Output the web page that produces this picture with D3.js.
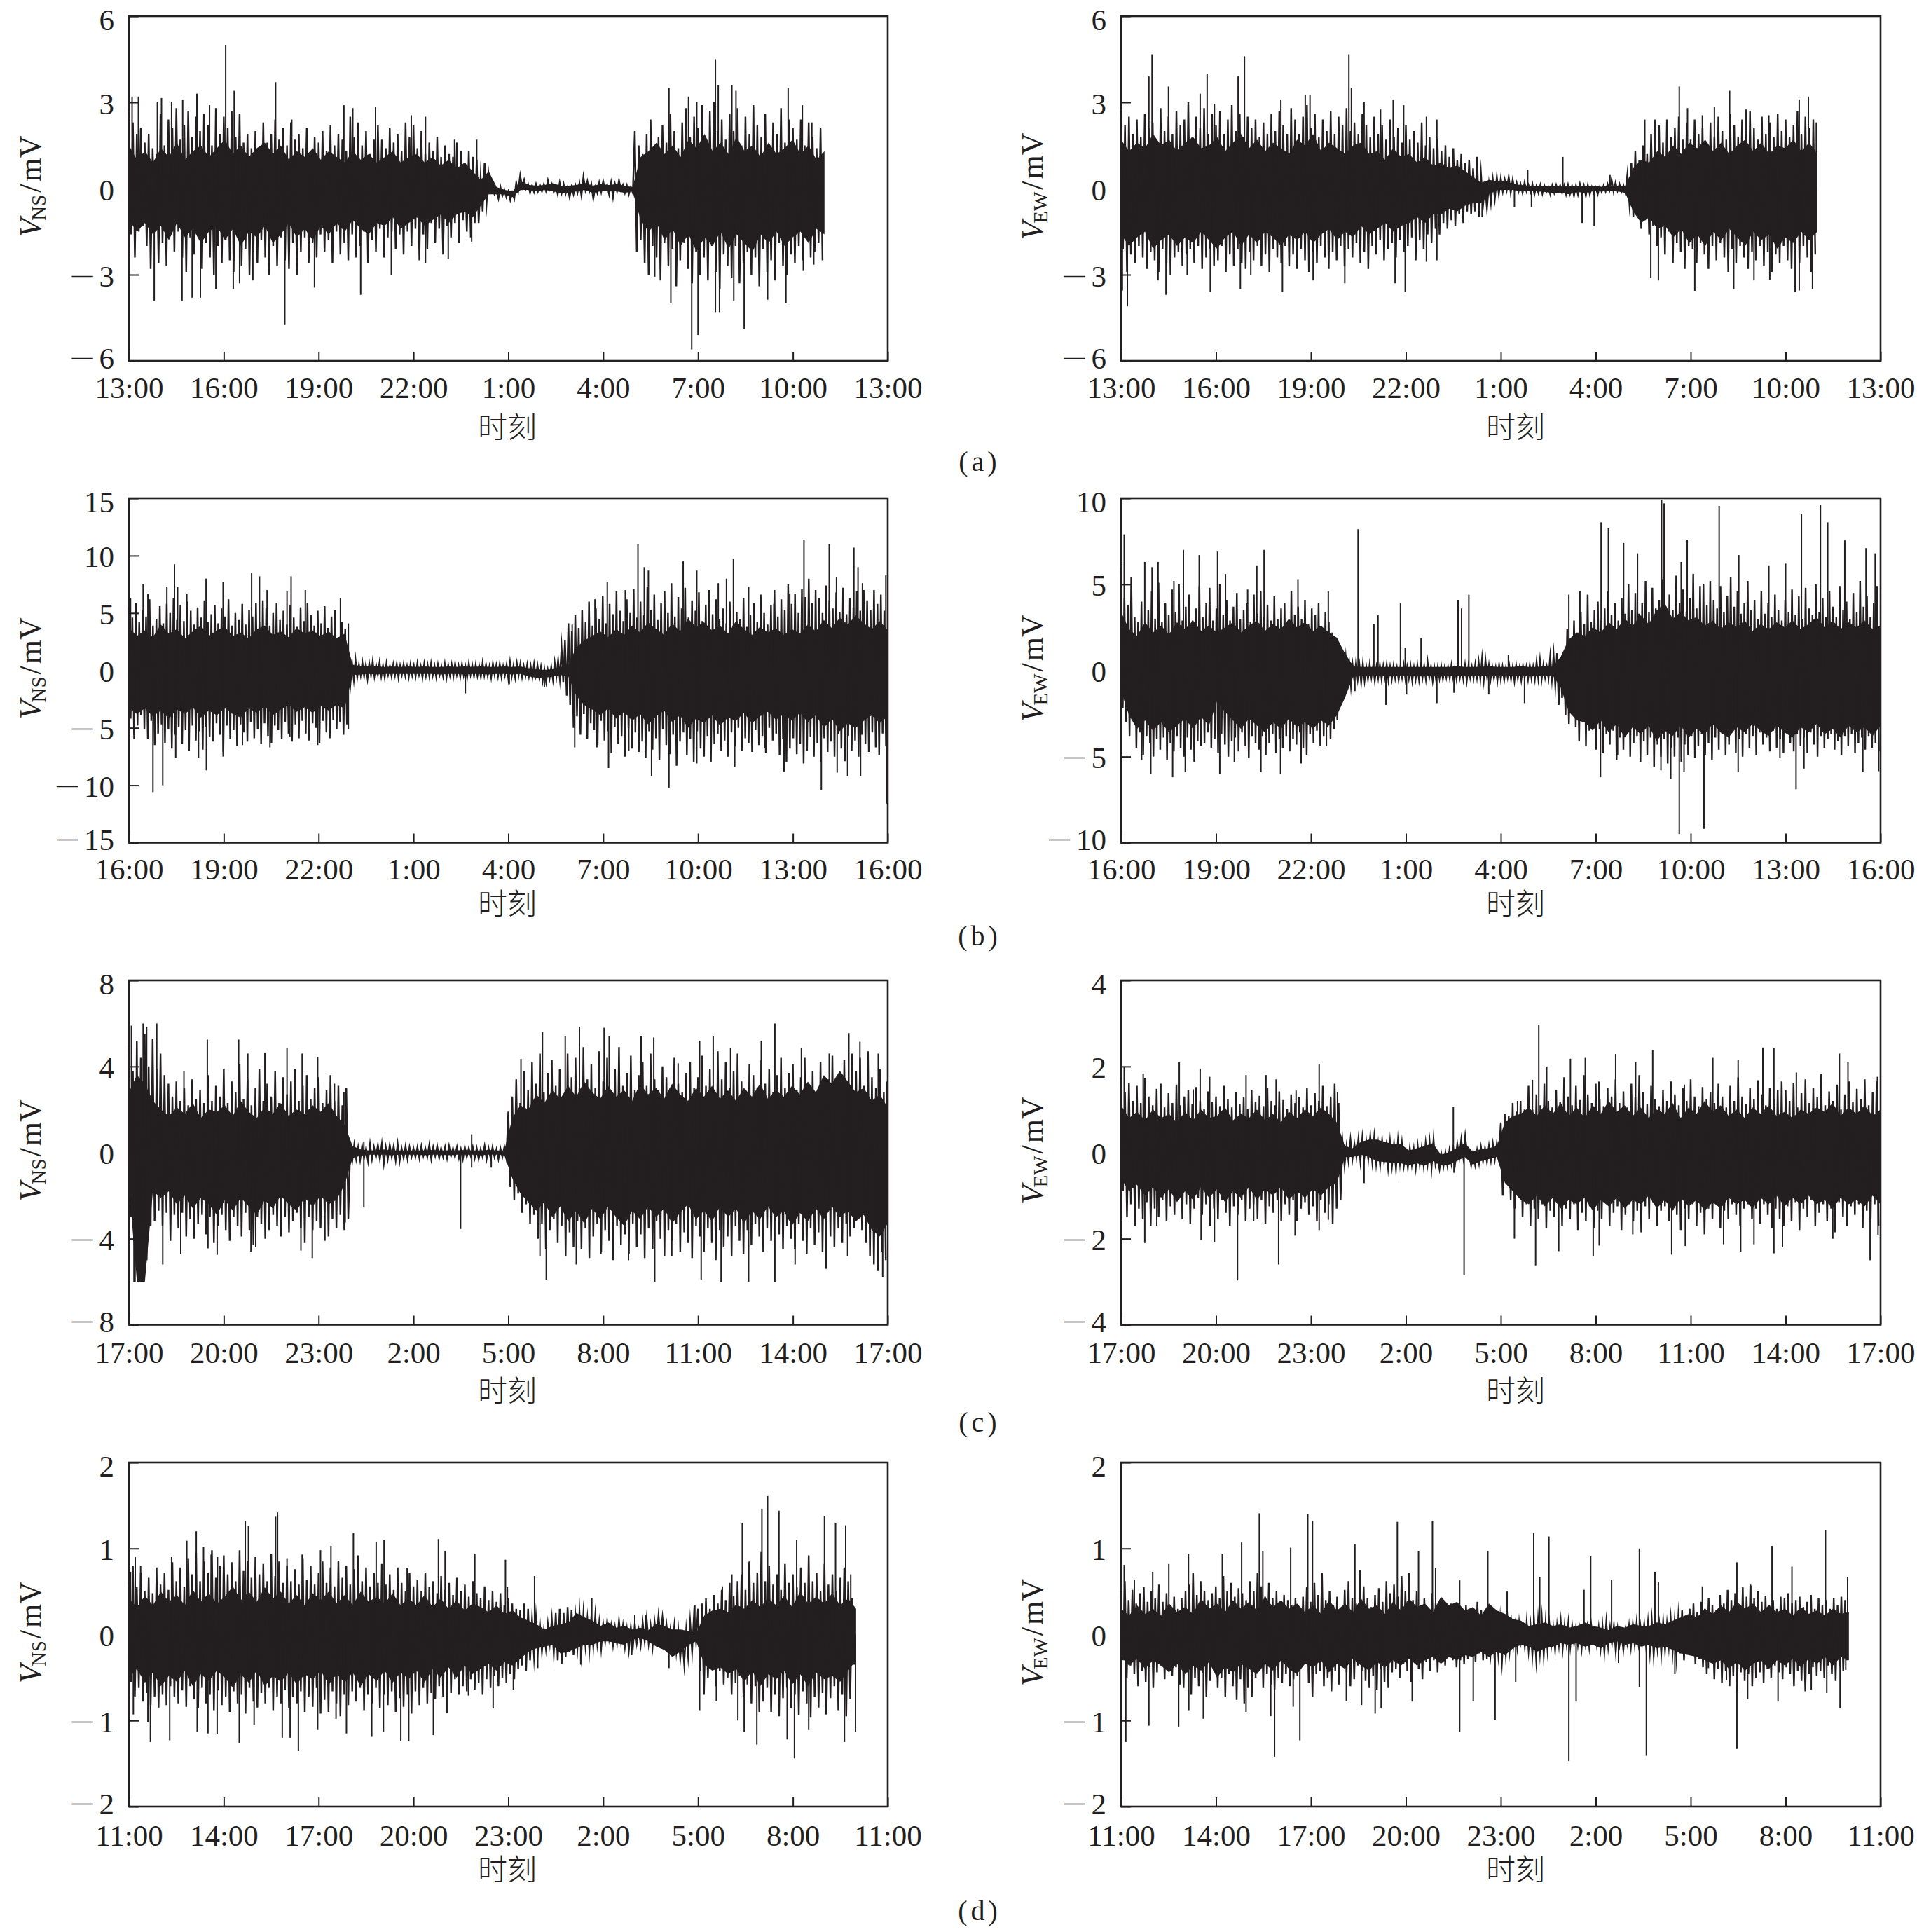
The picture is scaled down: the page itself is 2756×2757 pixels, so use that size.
<!DOCTYPE html>
<html><head><meta charset="utf-8"><style>html,body{margin:0;background:#fff}svg{display:block}</style>
<script src="https://cdn.jsdelivr.net/npm/d3@7"></script></head><body><svg id="c" width="2756" height="2757"></svg>
<script>
const rowNames=["(a)","(b)","(c)","(d)"];
const xLabelsA=["13:00","16:00","19:00","22:00","1:00","4:00","7:00","10:00","13:00"];
const xLabelsB=["16:00","19:00","22:00","1:00","4:00","7:00","10:00","13:00","16:00"];
const xLabelsC=["17:00","20:00","23:00","2:00","5:00","8:00","11:00","14:00","17:00"];
const xLabelsD=["11:00","14:00","17:00","20:00","23:00","2:00","5:00","8:00","11:00"];
const xTickHours=[0,3,6,9,12,15,18,21,24];

// a NS
const aNS_up=[2.8,2.3,1.9,2.1,1.6,1.9,1.4,1.2,2.6,1.5,2.4,2.1,2.8,1.7,2.2,2.7,1.8,2.5,2.0,2.6,2.2,1.5,2.8,1.9,
2.5,2.1,2.7,1.8,2.6,1.6,1.9,1.4,2.0,1.3,2.3,1.6,1.9,2.4,1.7,2.1,1.5,2.3,1.7,1.9,1.4,2.1,1.2,1.8,
1.6,2.0,1.3,2.2,1.5,1.9,1.7,1.3,2.5,1.8,2.3,1.5,2.0,1.2,1.7,2.2,1.7,1.4,2.1,1.6,1.9,1.3,2.3,1.8,
2.2,1.4,2.0,1.2,1.6,1.3,1.8,1.1,1.5,1.2,1.1,1.6,1.3,0.9,1.3,1.1,1.0,0.4,0.9,0.5,0.0,-0.1,0.05,-0.05,
-0.1,-0.15,0.2,0.45,0.3,0.15,0.1,0.15,0.12,0.15,0.28,0.15,0.1,0.2,0.15,0.05,0.05,0.1,0.18,0.4,0.25,0.15,0.05,0.2,
0.25,0.12,0.2,0.15,0.28,0.12,0.1,0.05,2.0,1.5,1.2,1.9,2.4,1.4,1.8,2.2,1.6,2.6,2.0,1.4,2.3,2.8,1.8,2.5,
2.1,2.9,1.6,2.7,3.0,2.0,2.4,1.7,2.6,2.0,2.8,1.5,2.5,1.9,2.9,2.2,1.8,2.6,1.5,2.3,1.9,2.8,1.6,2.4,
2.1,1.7,2.4,1.5,2.3,1.8,1.4,2.1];
const aNS_lo=[-1.6,-2.4,-1.5,-1.3,-2.0,-2.8,-1.4,-2.6,-1.9,-2.7,-1.6,-2.2,-1.5,-2.4,-2.9,-1.7,-2.3,-1.6,-2.8,-1.9,-2.4,-3.0,-2.0,-2.6,
-1.8,-2.5,-2.9,-1.7,-2.7,-2.1,-3.0,-2.2,-2.6,-1.8,-2.4,-3.0,-2.0,-2.7,-1.7,-2.5,-2.8,-1.9,-3.0,-2.2,-1.7,-2.6,-1.9,-2.4,
-1.6,-2.2,-1.8,-2.6,-1.5,-2.3,-1.9,-2.5,-1.6,-2.4,-2.0,-1.5,-2.6,-1.8,-2.2,-1.4,-2.4,-1.7,-1.5,-2.1,-1.6,-2.3,-1.5,-2.0,
-1.4,-2.5,-1.6,-2.1,-1.2,-1.9,-1.4,-2.3,-1.3,-1.7,-1.2,-1.9,-1.1,-1.5,-1.7,-1.2,-1.2,-0.8,-0.5,-0.1,-0.2,-0.35,-0.25,-0.3,
-0.4,-0.35,-0.1,0.05,0,-0.15,-0.12,-0.1,-0.1,-0.08,-0.02,-0.12,-0.2,-0.15,-0.18,-0.3,-0.2,-0.15,-0.25,-0.05,-0.1,-0.35,-0.15,-0.12,
-0.05,-0.2,-0.3,-0.1,-0.05,-0.15,-0.2,-0.15,-2.2,-1.8,-2.6,-3.0,-2.0,-2.4,-3.2,-1.9,-2.7,-2.1,-3.4,-2.5,-1.9,-2.8,-3.3,-2.2,
-3.0,-2.4,-3.2,-2.0,-2.9,-3.5,-2.3,-2.7,-3.1,-2.0,-3.3,-2.6,-2.2,-3.0,-2.4,-3.4,-2.1,-2.9,-2.5,-3.2,-1.9,-2.7,-3.0,-2.3,
-2.6,-2.0,-2.5,-1.8,-2.4,-2.2,-1.9,-2.5];
const aNS_peakT=[.1,.3,.9,1.03,1.35,1.7,2.15,2.55,3.06,3.33,3.5,4.64,5.15,6.8,7.08,7.8,8.93,9.38,10.3,11,17.08,17.7,17.96,18.55,18.64,19.07,19.2,19.75,20.85,21.3,21.6,.8,1.68,2,2.26,2.75,3.3,3.5,3.92,4.93,5.87,7.33,8.3,9.38,10.1,10.84,16.63,17.14,17.8,18,18.55,18.68,19.13,19.46,20.2,20.78,21.33,21.66];
const aNS_peakV=[3.2,3.2,3,3.15,3,3.1,3.3,2.9,5,3.4,2.6,3.7,2.4,2.9,2.8,2.85,2.55,2.5,1.7,1.7,3.5,3.2,3,4.5,3.6,3.6,3.4,2.85,3.5,2.9,2.3,-3.9,-3.9,-3.8,-3.8,-3.5,-3.5,-3.3,-3.2,-4.75,-3.45,-3.7,-3,-2.6,-2.45,-1.85,-3.07,-4,-5.6,-5.1,-4.3,-4.3,-3.9,-4.9,-3.87,-4,-2.87,-2.65];
const aNS_coreU=[1.5,1.0,1.3,0.9,1.4,1.1,1.6,1.0,1.3,1.5,1.1,1.4,1.7,1.2,1.5,1.1,1.4,1.6,1.2,1.5,1.0,1.3,1.1,1.4,1.0,1.3,1.1,0.9,1.3,1.0,1.2,0.9,1.1,1.3,0.9,1.1,1.2,0.9,1.1,0.8,1.0,0.7,0.9,0.6,0.3,0.6,0.05,-0.05,-0.1,0.25,0.12,0.1,0.12,0.18,0.1,0.1,0.12,0.2,0.1,0.15,0.12,0.15,0.1,0.05,1.1,1.3,1.6,1.2,1.5,1.1,1.7,1.4,1.9,1.3,1.6,1.2,1.8,1.3,1.5,1.1,1.6,1.2,1.4,1.7,1.2,1.5,1.0,1.3];
const aNS_coreL=[-1.1,-1.5,-1.2,-1.6,-1.3,-1.8,-1.2,-1.7,-1.4,-1.9,-1.5,-1.3,-1.8,-1.4,-2.0,-1.5,-1.7,-1.3,-1.9,-1.6,-1.2,-1.7,-1.4,-1.8,-1.3,-1.6,-1.2,-1.5,-1.1,-1.4,-1.6,-1.2,-1.3,-1.0,-1.4,-1.2,-1.0,-1.3,-1.1,-0.9,-1.2,-0.9,-0.8,-1.0,-0.6,-0.2,-0.2,-0.2,-0.3,-0.05,-0.05,-0.1,-0.05,-0.1,-0.15,-0.15,-0.1,-0.05,-0.15,-0.1,-0.1,-0.1,-0.15,-0.1,-1.1,-1.5,-1.2,-1.8,-1.4,-2.0,-1.6,-2.2,-1.7,-2.0,-1.5,-2.1,-1.6,-1.9,-2.2,-1.6,-1.9,-1.5,-2.0,-1.7,-1.5,-1.9,-1.4,-1.6];

// a EW
const aEW_up=[2.7,2.2,2.5,1.9,2.4,1.8,2.6,2.1,2.3,1.7,2.8,2.0,2.5,1.9,2.7,2.2,2.4,3.0,1.8,2.5,2.1,2.8,1.9,2.6,
2.2,2.7,1.9,2.4,2.9,2.0,2.6,1.8,2.5,2.1,2.4,1.8,2.3,1.9,2.6,2.0,2.7,2.2,1.9,2.8,2.4,1.9,2.5,2.9,
2.1,2.6,1.8,2.4,2.0,2.7,1.9,2.5,2.2,2.8,2.0,2.3,1.9,2.6,2.2,1.8,2.5,1.9,2.2,1.7,2.4,1.8,2.1,1.6,
2.2,1.7,2.0,1.6,2.3,1.5,1.8,1.4,1.7,1.3,1.5,1.1,1.4,1.0,1.2,0.9,1.0,0.7,1.1,0.5,0.1,0.15,0.3,0.4,
0.35,0.3,0.4,0.3,0.2,0.15,0.2,0.12,0.15,0.08,0.12,0.1,0.05,0.1,0.12,0.1,0.1,0.12,0.08,0.1,0.15,0.1,0.12,0.05,
0.03,0.05,0.1,0.15,0.3,0.2,0.15,0.1,0.5,0.9,1.3,1.0,1.5,1.2,1.9,1.4,2.2,1.6,2.4,1.8,2.1,2.5,1.7,2.3,
1.7,2.4,1.9,2.1,1.6,2.3,1.8,2.5,2.0,1.7,2.6,2.2,1.8,2.4,1.9,2.7,2.1,1.7,2.5,1.9,2.3,1.8,2.6,2.0,
2.4,1.8,2.2,2.7,1.9,2.5,2.1,2.4];
const aEW_lo=[-2.1,-2.9,-2.3,-2.6,-2.0,-2.4,-2.8,-2.2,-2.5,-2.9,-2.1,-2.6,-3.0,-2.4,-2.2,-2.7,-2.3,-2.1,-2.6,-2.0,-2.8,-2.4,-2.1,-2.7,
-2.5,-2.0,-2.9,-2.3,-2.7,-2.1,-2.6,-2.8,-2.2,-2.5,-2.0,-2.7,-2.3,-2.9,-2.1,-2.4,-2.6,-2.0,-2.7,-2.3,-2.8,-2.1,-2.5,-2.9,
-2.2,-2.6,-2.0,-2.4,-2.8,-2.2,-2.5,-2.0,-2.7,-2.1,-2.4,-1.9,-2.6,-2.2,-2.8,-2.0,-2.3,-1.8,-2.5,-2.1,-1.9,-2.4,-1.8,-2.2,
-2.0,-1.7,-2.5,-1.8,-2.1,-1.6,-1.9,-1.4,-1.6,-1.2,-1.4,-1.1,-1.3,-0.9,-1.2,-0.8,-0.9,-0.8,-1.0,-0.6,-0.7,-0.5,-0.35,-0.2,
-0.1,-0.05,-0.15,-0.05,-0.1,-0.15,-0.1,-0.12,-0.2,-0.15,-0.18,-0.12,-0.2,-0.15,-0.1,-0.15,-0.2,-0.18,-0.25,-0.2,-0.15,-0.25,-0.2,-0.15,
-0.2,-0.12,-0.1,-0.05,-0.1,-0.08,-0.1,-0.15,-0.5,-1.0,-0.9,-1.4,-1.1,-1.6,-1.3,-2.0,-1.7,-2.3,-1.5,-2.6,-1.9,-2.2,-2.8,-2.0,
-2.1,-2.6,-1.9,-2.3,-2.8,-2.0,-2.5,-1.9,-2.4,-2.9,-2.1,-2.6,-2.0,-2.4,-2.8,-2.2,-2.5,-2.0,-2.7,-2.2,-2.9,-2.3,-2.6,-2.0,
-2.5,-2.8,-2.2,-2.6,-2.0,-2.4,-2.9,-2.3];
const aEW_peakT=[.98,.88,1.5,2.5,2.72,2.95,3.7,3.9,5.05,5.82,5.97,7.2,7.28,7.68,8.2,8.6,8.93,9.65,9.98,12.85,13.96,15.45,16.55,16.87,17.64,17.9,18.37,19.23,18.75,19.75,20.47,21.43,21.72,21.97,.04,.2,1.17,1.42,2.09,2.82,3.77,4.1,5.1,6.07,7.07,8.66,8.98,9.65,9.98,11.41,12.43,12.97,14.57,14.95,16.74,16.98,18.13,19.36,20,20.5,21.3,21.43,21.85];
const aEW_peakV=[4.67,3.9,3.55,3.3,4,2.95,3.9,4.6,3.1,3.25,3.25,4.67,3.5,3,2.75,3.1,2.9,2.5,2.4,.65,1.1,.47,2.4,2.4,3.55,2.8,2.55,3.4,2.85,2.75,2.55,3.1,3.2,2.3,-3.55,-4.1,-3.2,-3.7,-3,-3.6,-3.5,-3,-3.6,-3.2,-3.3,-3.3,-3.6,-2.55,-2.5,-1,-.65,-.65,-1.2,-1.3,-3.1,-3.2,-3.56,-3.5,-3.2,-3.17,-3.6,-3.55,-3.5];
const aEW_coreU=[1.7,1.3,1.6,1.4,1.9,1.5,1.7,1.3,1.6,1.8,1.4,1.5,1.8,1.3,1.6,1.9,1.4,1.7,1.3,1.6,1.4,1.2,1.7,1.5,1.9,1.3,1.6,1.4,1.2,1.5,1.6,1.2,1.3,1.0,1.4,1.1,1.2,0.9,1.1,0.8,0.9,0.7,0.8,0.6,0.4,0.2,0.3,0.25,0.28,0.15,0.12,0.1,0.1,0.08,0.1,0.08,0.1,0.08,0.1,0.1,0.06,0.1,0.1,0.1,0.7,1.0,0.9,1.3,1.1,1.5,1.2,1.6,1.4,1.7,1.3,1.6,1.2,1.5,1.7,1.3,1.6,1.2,1.5,1.4,1.7,1.3,1.6,1.2];
const aEW_coreL=[-1.6,-2.0,-1.7,-1.5,-2.1,-1.8,-1.6,-2.0,-1.7,-1.9,-1.5,-1.8,-2.1,-1.7,-1.5,-2.0,-1.6,-1.9,-1.5,-1.7,-2.0,-1.6,-1.8,-1.5,-1.9,-1.6,-1.4,-1.8,-1.5,-1.7,-1.3,-1.6,-1.4,-1.2,-1.5,-1.3,-1.2,-1.0,-1.2,-0.9,-0.9,-0.7,-0.8,-0.6,-0.5,-0.5,-0.2,-0.05,-0.05,-0.05,-0.1,-0.1,-0.1,-0.12,-0.15,-0.15,-0.2,-0.12,-0.15,-0.1,-0.1,-0.08,-0.1,-0.15,-0.8,-1.2,-1.0,-1.4,-1.3,-1.7,-1.4,-1.9,-1.6,-2.0,-1.5,-1.8,-1.4,-1.7,-2.0,-1.5,-1.8,-1.6,-2.1,-1.7,-1.9,-1.5,-1.8,-1.5];

// b NS
const bNS_up=[5.5,4.6,5.9,4.2,5.3,4.7,6.2,3.9,4.5,5.6,4.1,5.8,5.0,6.3,4.4,5.7,4.3,6.0,5.2,4.0,5.5,4.6,6.1,4.2,
4.9,5.7,4.1,5.4,4.7,6.2,3.9,5.0,4.4,5.8,4.0,5.3,4.7,5.9,4.2,6.1,5.4,3.9,5.0,5.9,4.4,5.2,4.0,5.7,
4.6,3.8,5.5,4.3,5.9,4.8,3.9,5.2,4.1,5.6,3.7,4.7,5.3,2.9,4.2,3.6,0.8,0.6,0.9,0.5,0.7,0.5,0.6,0.8,
0.45,0.7,0.4,0.6,0.35,0.5,0.55,0.4,0.55,0.35,0.5,0.4,0.6,0.35,0.55,0.45,0.6,0.4,0.5,0.35,0.55,0.45,0.5,0.6,
0.4,0.55,0.35,0.6,0.45,0.5,0.4,0.65,0.5,0.35,0.6,0.45,0.55,0.35,0.5,0.7,0.4,0.6,0.55,0.35,0.5,0.4,0.55,0.45,0.3,0.1,0.05,0.3,0.7,
0.9,2.0,2.6,4.1,3.4,4.8,3.7,5.3,4.2,6.0,3.9,5.4,4.5,6.5,4.1,5.8,4.9,6.9,5.2,4.3,6.2,5.0,7.1,4.6,
6.0,4.8,7.3,5.3,6.6,4.4,5.9,6.9,5.0,7.6,4.7,6.4,5.4,7.2,4.6,6.1,5.2,6.8,4.3,5.7,7.0,4.9,6.2,4.5,
5.4,4.1,6.0,3.9,5.1,4.5,6.3,3.8,4.8,5.9,4.2,6.6,5.0,4.0,5.7,7.0,4.7,6.2,5.3,7.5,5.8,6.7,5.0,7.1,
6.4,8.0,5.9,7.0,6.3,5.0,7.4,6.1,5.4,6.8,5.1,7.2,4.9,6.3,5.5,6.9,5.2,7.0,6.1,5.3,7.0,5.8,6.6,5.2];
const bNS_lo=[-4.2,-5.6,-4.8,-3.9,-5.1,-6.0,-4.4,-6.5,-5.5,-4.7,-6.3,-5.1,-6.8,-5.6,-4.9,-6.4,-5.2,-7.0,-4.8,-6.1,-5.3,-6.9,-4.9,-5.8,
-6.2,-4.6,-5.6,-7.1,-4.8,-6.0,-5.2,-6.6,-4.7,-5.4,-6.2,-4.5,-5.9,-5.1,-6.4,-4.6,-5.7,-6.3,-4.8,-5.2,-6.0,-4.5,-5.5,-6.2,
-4.7,-5.9,-4.4,-5.5,-6.1,-4.6,-5.0,-6.3,-4.4,-5.4,-5.9,-4.3,-5.1,-4.5,-5.6,-4.7,-1.2,-0.8,-0.6,-0.4,-0.5,-0.7,-0.4,-0.5,
-0.35,-0.5,-0.6,-0.35,-0.5,-0.4,-0.6,-0.35,-0.45,-0.55,-0.4,-0.5,-0.35,-0.6,-0.45,-0.5,-0.4,-0.55,-0.35,-0.5,-0.6,-0.4,-0.5,-0.35,
-0.55,-0.4,-0.6,-0.35,-0.5,-0.45,-0.55,-0.4,-0.45,-0.6,-0.35,-0.5,-0.55,-0.4,-0.7,-0.5,-0.6,-0.4,-0.55,-0.45,-0.5,-0.6,-0.45,-0.55,-0.9,-1.0,-0.7,-0.8,-0.5,
-0.7,-1.0,-2.2,-3.0,-5.0,-4.0,-5.6,-3.8,-6.0,-4.6,-5.2,-6.5,-4.4,-6.1,-5.3,-7.2,-4.9,-6.4,-5.7,-7.5,-5.0,-6.8,-5.4,-7.1,
-6.2,-7.6,-5.3,-6.9,-5.9,-7.8,-5.1,-6.5,-7.3,-5.6,-8.3,-6.2,-5.4,-7.4,-6.0,-8.0,-5.3,-6.8,-7.5,-5.7,-8.0,-6.4,-5.5,-7.0,
-6.1,-7.5,-5.4,-6.6,-5.0,-7.0,-5.9,-6.3,-7.1,-5.2,-6.5,-5.7,-7.2,-5.0,-6.1,-5.5,-7.4,-6.0,-8.0,-6.8,-5.9,-7.3,-6.4,-8.1,
-7.0,-5.8,-7.5,-6.3,-8.0,-5.9,-7.1,-6.2,-7.5,-5.5,-6.8,-7.9,-5.7,-7.0,-6.1,-7.5,-5.6,-6.4,-7.1,-5.4,-6.7,-7.4,-5.5,-6.6];
const bNS_peakT=[.05,.45,.6,1.2,1.44,1.54,1.83,2.44,2.98,3.88,4.13,4.37,5.13,5,5.58,6.69,6.94,14.02,14.74,15.13,15.7,16.1,16.3,16.43,17.53,17.96,18.64,19.12,18.9,19.6,20.4,20.9,21.35,22.15,22.38,22.93,23.06,23.2,23.94,.76,1.07,.16,1.48,2.2,2.45,2.98,3.59,4.46,5.09,5.97,6.94,10.64,12.03,13.14,14.1,14.8,15.17,15.81,16.53,17.08,17.96,19.16,20.1,20.72,21.9,22.4,22.73,23.14,23.96];
const bNS_peakV=[6.3,7.5,6.7,7.3,9.25,7.3,6.7,8,7.7,8.5,8.2,7,8.2,6.9,7,6.3,4.1,4,6.2,7.7,7,11,9,8.7,9.5,8.7,7.6,9.7,8,7.3,5.8,6.7,11.4,11,8.1,10.7,9,7.6,8.3,-10.6,-10,-6,-7.6,-7.6,-8.7,-7.5,-6.5,-6.7,-5.8,-6.5,-5.1,-2,-1.2,-1.45,-6.7,-6.7,-8.5,-7,-9.2,-10.2,-8.1,-8.4,-6.8,-8.8,-10.4,-8.9,-9.2,-9.2,-11.6];
const bNS_coreU=[3.7,3.0,3.5,2.9,4.0,3.2,3.6,2.8,3.4,3.9,3.0,3.5,3.8,3.0,3.3,2.8,3.6,3.9,3.1,3.4,2.9,3.7,3.2,3.5,3.0,3.4,2.8,3.2,.5,.4,.35,.35,.3,.35,.3,.35,.3,.35,.3,.3,.35,.3,.35,.3,.35,.3,.3,.35,.3,.35,.2,.1,.05,.1,.3,.5,2.0,2.6,3.0,3.4,2.9,3.6,3.1,3.9,3.3,4.2,3.6,3.1,4.1,3.4,4.5,3.8,4.2,3.5,3.9,3.2,4.3,3.6,3.1,3.8,3.3,3.7,3.1,3.6,3.2,4.0,3.4,4.4,3.7,4.6,4.0,4.8,4.1,3.6,4.3,3.5];
const bNS_coreL=[-3.2,-3.8,-3.3,-4.0,-3.5,-4.2,-3.4,-3.8,-3.2,-4.1,-3.5,-3.9,-3.3,-3.8,-4.1,-3.3,-3.7,-3.1,-3.9,-3.4,-3.0,-3.6,-3.2,-3.7,-3.1,-3.5,-3.0,-3.3,-.4,-.35,-.3,-.35,-.3,-.3,-.3,-.3,-.3,-.3,-.3,-.35,-.3,-.3,-.35,-.3,-.3,-.35,-.3,-.3,-.35,-.3,-.5,-.65,-.6,-.55,-.4,-.5,-2.2,-3.0,-3.4,-3.9,-3.3,-4.2,-3.6,-4.4,-3.8,-4.7,-4.0,-3.5,-4.5,-3.9,-5.0,-4.2,-4.6,-3.9,-4.8,-4.1,-4.4,-3.7,-4.6,-4.0,-3.6,-4.3,-3.8,-4.4,-3.7,-4.5,-3.9,-5.0,-4.2,-5.3,-4.6,-5.0,-4.4,-3.9,-4.6,-4.0];

// b EW
const bEW_up=[6.0,4.2,3.8,5.4,3.1,2.8,4.0,2.6,3.5,4.6,3.0,5.1,2.8,3.9,3.2,4.7,3.4,5.0,2.9,3.7,4.4,2.9,3.6,4.9,
3.1,3.9,4.8,2.9,3.6,5.0,3.2,4.1,2.9,3.7,4.5,3.0,3.5,3.9,2.8,4.4,3.3,4.6,3.1,3.8,2.9,4.3,3.0,3.6,
3.9,2.8,4.6,3.2,3.7,3.0,4.1,2.7,3.6,3.2,3.9,2.5,3.4,2.8,2.2,1.9,0.8,0.5,0.7,0.4,0.3,0.5,0.3,0.4,
0.2,0.35,0.25,0.2,0.3,0.25,0.35,0.2,0.25,0.15,0.2,0.3,0.2,0.25,0.15,0.3,0.2,0.25,0.5,0.2,0.15,0.2,0.25,0.15,
0.2,0.3,0.15,0.25,0.2,0.3,0.25,0.2,0.35,0.5,0.7,0.6,0.3,0.2,0.15,0.3,0.2,0.15,0.25,0.2,0.3,0.15,0.25,0.2,0.3,0.2,0.5,0.6,0.3,0.2,0.8,
0.9,1.0,0.6,1.1,2.4,1.6,2.9,2.2,3.4,2.7,4.4,2.8,3.5,4.0,2.9,3.6,4.6,3.2,3.9,2.9,4.2,3.3,5.0,3.5,
4.5,3.3,3.9,5.2,3.4,4.8,3.6,4.1,5.3,3.7,4.4,3.5,5.5,3.9,4.7,3.4,4.2,5.6,3.6,4.9,5.0,3.8,5.2,4.1,
3.6,4.9,3.4,4.3,5.4,3.7,4.6,3.3,3.9,5.2,3.5,4.1,3.0,4.6,3.3,3.9,3.1,4.4,3.5,2.9,4.1,3.4,4.7,3.2,
4.3,3.0,4.8,3.6,3.2,5.0,3.4,4.2,3.1,4.6,3.7,3.1,4.9,3.5,4.0,3.0,4.5,3.4,5.2,3.7,4.3,3.1,3.9,4.9];
const bEW_lo=[-2.2,-3.0,-3.8,-2.9,-4.5,-3.6,-4.9,-3.8,-4.2,-5.0,-4.0,-4.6,-3.9,-5.2,-4.2,-4.7,-3.8,-4.5,-5.0,-3.9,-4.6,-5.3,-4.1,-4.4,
-4.2,-3.6,-4.5,-4.0,-4.8,-3.7,-4.3,-5.0,-4.1,-3.9,-4.7,-3.6,-4.4,-5.1,-3.8,-4.2,-4.6,-3.8,-4.9,-4.2,-3.7,-4.8,-4.0,-4.5,
-3.8,-4.7,-4.0,-4.3,-3.6,-4.5,-4.9,-3.7,-4.2,-3.5,-4.4,-3.8,-3.3,-4.0,-3.4,-2.9,-1.1,-0.8,-0.6,-0.9,-0.6,-0.5,-0.7,-0.6,
-0.5,-0.4,-0.6,-0.45,-0.5,-0.4,-0.55,-0.5,-0.45,-0.55,-0.4,-0.5,-0.45,-0.6,-0.5,-0.55,-0.45,-0.5,-0.4,-0.6,-0.55,-0.45,-0.5,-0.4,
-0.45,-0.4,-0.5,-0.4,-0.5,-0.6,-0.4,-0.45,-0.4,-0.5,-0.55,-0.4,-0.5,-0.45,-0.6,-0.5,-0.55,-0.4,-0.5,-0.6,-0.45,-0.55,-0.4,-0.5,-0.45,-0.5,-0.45,-0.5,-0.4,-0.45,-0.5,
-0.9,-2.0,-1.6,-2.6,-3.1,-2.4,-3.3,-4.1,-3.0,-4.4,-3.5,-3.2,-4.6,-3.4,-4.8,-3.7,-4.3,-3.5,-5.2,-3.9,-4.6,-3.6,-5.0,-4.2,
-3.8,-5.3,-4.1,-4.9,-3.9,-5.6,-4.3,-5.0,-4.0,-5.4,-4.5,-5.0,-3.9,-5.3,-4.3,-4.9,-3.8,-5.1,-4.4,-3.7,-4.9,-4.2,-5.2,-3.9,
-4.6,-3.7,-4.9,-4.3,-3.6,-4.8,-4.0,-5.0,-3.7,-4.5,-3.8,-4.9,-3.6,-4.3,-3.9,-4.7,-3.5,-4.5,-4.0,-4.8,-3.6,-4.2,-4.7,-3.7,
-4.4,-3.9,-4.8,-3.6,-4.3,-5.0,-3.8,-4.5,-4.0,-3.7,-4.6,-4.1,-4.9,-3.8,-4.4,-3.7,-4.8,-4.2,-3.9,-4.6,-3.8,-4.5,-4.2,-4.7];
const bEW_peakT=[.1,.02,.75,.98,1.17,1.67,1.97,2.47,3.05,3.3,4,4.29,4.52,5.59,6.55,7.49,7.99,8.12,8.83,8.98,9.48,10.65,10.76,10.99,12.24,14.15,14.5,15.17,15.4,15.88,16.32,17.08,17.16,17.89,17.7,18.9,19.52,20.47,21,21.5,22.1,22.33,22.87,23.54,23.83,.94,.65,1.63,2.03,3.12,3.58,4.42,5.04,5.69,6.49,7.39,8.37,9.02,9.98,10.52,11.62,12.75,15.15,15.69,17.06,17.37,17.64,17.79,18.42,19.5,20.82,21.33,21.58,23.44,23.94];
const bEW_peakV=[7.9,6.3,6.3,6,6.3,5.2,7,6.7,6.9,5.6,4.7,6.1,7,5.3,4.6,8.2,2.7,3.2,3.9,1.3,1.9,4.1,3.6,4.4,.9,4.4,4.6,8.6,8.25,7.4,6.8,9.9,9.7,7.6,6.3,9.55,6.7,6.1,6.2,9.1,9.6,8.6,7.55,7.1,6.8,-6,-5.2,-6.2,-5.9,-6,-5.3,-5.9,-6,-5.4,-4.4,-1.2,-2,-1.4,-1.9,-1.3,-1.4,-1.9,-6.2,-4.9,-5.8,-6.3,-9.5,-5.9,-9.2,-5.9,-5.1,-6.9,-5.7,-5.9,-5.85];
const bEW_coreU=[3.4,2.4,2.0,2.8,2.2,2.6,2.1,2.8,2.4,2.9,2.3,2.6,2.2,2.5,2.8,2.2,2.6,2.9,2.3,2.7,2.4,3.0,2.5,2.8,2.3,2.6,2.2,1.9,1.0,.3,.2,.2,.2,.2,.2,.2,.2,.2,.2,.2,.2,.2,.25,.2,.2,.2,.25,.2,.2,.2,.25,.2,.2,.25,.2,.8,1.8,2.2,2.0,2.5,2.2,2.8,2.4,3.0,2.6,3.2,2.7,3.5,3.9,3.0,3.4,2.9,3.1,2.6,2.9,2.4,2.8,2.5,2.9,2.3,2.7,2.4,2.8,2.5,2.9,2.4,2.7,3.1,2.5,2.9,2.4,2.8,2.5,2.9,2.4,2.6];
const bEW_coreL=[-1.2,-2.6,-3.4,-2.9,-3.5,-3.0,-3.6,-3.2,-2.8,-3.4,-2.7,-3.2,-1.8,-2.4,-2.9,-3.4,-2.8,-3.2,-3.6,-3.0,-3.4,-2.8,-3.3,-3.0,-3.4,-2.9,-3.2,-2.6,-1.6,-.4,-.3,-.35,-.3,-.3,-.35,-.3,-.3,-.35,-.3,-.3,-.35,-.3,-.3,-.3,-.35,-.3,-.3,-.35,-.3,-.3,-.35,-.3,-.3,-.35,-.3,-1.0,-2.4,-2.9,-3.0,-3.5,-2.9,-3.6,-3.1,-3.9,-3.3,-3.7,-3.2,-4.1,-3.5,-3.8,-3.2,-3.9,-3.4,-3.7,-3.1,-3.6,-3.9,-3.3,-3.6,-3.1,-3.5,-3.8,-3.2,-3.6,-3.9,-3.3,-3.6,-3.1,-3.7,-3.4,-3.9,-3.2,-3.6,-3.3,-3.8,-3.2];

// c NS
const cNS_up=[5.0,3.8,5.2,4.4,5.5,4.0,5.3,3.9,4.6,3.6,3.2,2.6,3.3,2.4,3.0,2.2,3.4,2.5,2.9,2.3,3.6,2.4,3.1,2.6,
3.9,2.3,3.3,2.8,4.1,2.5,3.4,2.2,3.0,3.9,2.4,3.2,2.6,3.8,2.3,3.5,2.7,3.3,3.9,2.4,3.1,3.6,2.5,3.0,
3.5,2.3,2.9,3.6,2.4,3.1,2.2,3.0,0.3,0.35,0.25,0.3,0.2,0.4,0.25,0.35,0.4,0.25,0.35,0.3,0.4,0.2,0.3,0.25,
0.2,0.25,0.3,0.2,0.35,0.25,0.3,0.2,0.25,0.3,0.2,0.25,0.15,0.25,0.2,0.25,0.2,0.15,0.3,0.2,0.25,0.15,0.2,0.25,
1.9,2.6,3.4,2.3,3.8,2.9,4.2,3.2,4.6,2.8,3.7,4.3,3.1,3.9,2.7,4.6,3.5,4.4,3.0,4.9,3.4,4.1,3.0,4.7,
3.3,4.4,2.8,3.9,4.9,3.1,3.7,4.5,2.9,3.6,4.2,3.1,4.6,3.4,2.9,4.0,3.5,3.0,4.4,3.2,2.8,3.7,4.2,3.0,
3.5,4.5,3.1,3.9,2.9,4.7,3.4,4.2,3.0,3.8,4.6,3.3,2.9,4.1,3.6,3.0,4.3,3.2,3.9,2.8,3.6,4.4,3.0,3.7,
4.1,2.9,3.5,4.4,3.1,3.8,2.8,4.2,3.0,3.4,4.5,3.2,3.7,4.3,3.3,4.6,3.8,4.4,3.1,4.7,3.5,3.0,3.9,2.8];
const cNS_lo=[-3.0,-6.0,-6.0,-5.9,-5.0,-3.4,-3.2,-2.7,-3.4,-2.8,-4.1,-2.9,-3.5,-2.8,-3.9,-3.1,-4.0,-3.3,-2.9,-3.8,-3.0,-4.2,-3.4,-2.9,
-3.6,-4.1,-3.0,-3.4,-3.9,-2.8,-3.6,-4.3,-3.0,-3.3,-4.0,-3.6,-2.9,-3.4,-3.9,-3.0,-3.7,-3.2,-2.8,-3.5,-4.2,-3.0,-3.6,-3.2,
-3.5,-2.8,-3.9,-3.1,-3.5,-2.9,-3.6,-3.1,-0.4,-0.3,-0.35,-0.25,-0.4,-0.3,-0.2,-0.3,-0.5,-0.3,-0.2,-0.35,-0.4,-0.25,-0.3,-0.2,
-0.2,-0.25,-0.15,-0.2,-0.3,-0.15,-0.25,-0.2,-0.25,-0.15,-0.2,-0.25,-0.3,-0.2,-0.15,-0.25,-0.3,-0.2,-0.3,-0.25,-0.2,-0.3,-0.2,-0.25,
-1.6,-2.2,-1.9,-2.8,-2.4,-3.3,-2.9,-4.0,-3.3,-4.5,-3.6,-3.1,-4.2,-3.4,-4.8,-3.7,-4.4,-3.2,-4.5,-3.5,-4.9,-3.9,-3.3,-4.6,
-3.6,-4.1,-5.0,-3.4,-4.3,-3.8,-4.7,-3.3,-4.4,-3.8,-4.9,-3.5,-4.5,-3.2,-4.0,-4.8,-3.6,-4.1,-3.3,-4.6,-3.7,-4.2,-4.9,-3.4,
-3.9,-4.6,-3.5,-4.2,-5.0,-3.6,-4.4,-3.9,-4.8,-3.4,-4.1,-4.7,-3.6,-4.3,-3.3,-3.9,-4.6,-3.5,-4.1,-3.2,-3.8,-4.5,-3.4,-4.0,
-4.5,-3.3,-4.1,-4.7,-3.5,-4.3,-3.7,-4.6,-3.2,-3.9,-4.4,-3.5,-4.2,-3.3,-3.9,-3.5,-3.0,-3.6,-4.2,-4.8,-5.2,-5.5,-4.6,-5.0];
const cNS_peakT=[.08,.45,.56,.88,1.74,2.48,3.47,3.76,4.3,5,5.48,5.97,6.5,6.8,7.43,10.84,12.4,13.08,13.8,14.25,15.03,15.19,16.2,16.6,17.37,18.05,18.48,19.03,20,20.43,21.27,22.15,22.77,23.12,23.7,23.96,.16,.3,1.07,1.64,2.5,2.79,3.86,4.01,5.44,5.8,6.2,6.84,7.43,10.49,10.84,11.46,13,13.2,14.15,14.93,15.8,16.63,17.17,18.1,18.73,19.6,20.43,21.07,22.05,22.73,23.7,23.84];
const cNS_peakV=[5.9,6,5.85,6,3.8,5.25,5.25,4.6,4.65,4.85,4.6,4.45,3.2,2.8,.5,.85,4.35,5.6,5.4,5.85,5.8,5.4,5.4,5.35,4.15,5.2,5.4,4.85,5.2,6,4.85,4.6,5.55,5.15,4.6,3.3,-6,-6,-5.2,-4.7,-4.45,-4.75,-4.6,-4.4,-4.55,-4.9,-4.1,-3.25,-2.55,-3.55,-.7,-.7,-4.8,-5.9,-5.2,-4.7,-5,-6,-4.8,-5.9,-6,-6,-6,-5.2,-5.4,-4.8,-5.3,-5.8];
const cNS_coreU=[2.8,3.6,3.2,2.4,2.0,1.7,2.1,1.8,2.3,1.6,2.0,1.9,2.2,1.7,2.4,1.9,1.6,2.1,1.8,2.3,1.7,2.0,1.8,2.2,1.9,2.3,1.7,1.3,0.3,.15,.1,.1,.15,.1,.1,.1,.1,.1,.12,.1,.1,.1,.12,.1,.1,.12,.1,.1,1.6,2.2,2.0,2.7,2.3,2.9,2.5,3.1,2.6,3.3,2.8,2.5,3.1,2.6,2.9,2.4,3.2,2.7,3.0,2.5,3.2,2.7,2.4,3.0,2.6,3.1,2.5,2.9,2.4,3.0,2.6,3.2,2.5,2.9,2.6,3.1,2.7,3.3,2.8,3.6,3.2,3.8,3.3,2.8,3.0,2.4,2.7,2.1];
const cNS_coreL=[-1.5,-6,-6,-1.8,-2.1,-1.8,-2.4,-2.0,-2.6,-2.1,-2.4,-2.9,-2.2,-2.7,-2.1,-2.5,-2.9,-2.2,-2.6,-2.0,-2.4,-2.7,-2.1,-2.5,-2.0,-2.4,-2.2,-1.5,-0.25,-.15,-.1,-.1,-.1,-.12,-.1,-.1,-.1,-.12,-.1,-.1,-.12,-.1,-.1,-.1,-.12,-.1,-.1,-.12,-1.2,-1.9,-2.3,-2.7,-2.3,-3.0,-2.5,-3.2,-2.7,-3.3,-2.6,-3.1,-2.5,-3.0,-3.4,-2.7,-3.1,-2.5,-3.0,-2.6,-3.3,-2.8,-2.4,-3.1,-2.7,-3.2,-2.5,-3.0,-2.6,-3.3,-2.7,-3.1,-2.5,-3.0,-2.7,-3.4,-2.8,-3.2,-2.6,-3.1,-2.5,-3.0,-2.7,-3.2,-2.9,-3.6,-3.9,-3.3];

// c EW
const cEW_up=[1.75,1.4,1.62,1.2,1.55,1.15,1.72,1.3,1.1,1.48,1.22,1.05,1.38,1.15,1.58,1.1,1.3,1.45,1.12,1.52,1.2,1.02,1.42,1.18,
1.3,1.08,1.55,1.25,1.05,1.4,1.12,1.28,1.02,1.45,1.18,1.32,1.08,1.5,1.2,1.1,1.42,1.22,1.02,1.35,1.15,1.28,1.05,1.5,
1.1,1.38,1.2,1.55,1.08,1.3,1.6,1.15,0.25,0.15,0.3,0.2,0.32,0.35,0.25,0.38,0.36,0.2,0.28,0.15,0.25,0.2,0.28,0.22,
0.03,0.1,0.08,0.15,0.12,0.22,0.25,0.3,-0.1,-0.05,0.0,0.05,0.1,0.2,0.3,0.38,-0.05,0.0,0.05,0.12,0.1,0.15,0.2,0.22,
0.7,0.9,0.85,1.15,0.95,1.2,1.0,1.55,1.0,1.35,1.1,1.6,1.2,1.05,1.45,1.18,1.75,1.3,1.1,1.55,1.22,1.8,1.35,1.15,
1.6,1.25,1.08,1.5,1.3,1.7,1.15,1.42,1.05,1.6,1.28,1.8,1.4,1.12,1.55,1.25,1.08,1.45,1.2,1.65,1.35,1.1,1.5,1.2,
1.7,1.3,1.08,1.52,1.25,1.4,1.15,1.6,1.3,1.05,1.55,1.2,1.75,1.3,1.12,1.5,1.25,1.68,1.35,1.1,1.5,1.25,1.45,1.65,
1.45,1.2,1.62,1.05,1.38,1.7,1.15,1.5,1.28,1.82,1.1,1.42,1.2,1.58,1.0,1.35,1.65,1.18,1.48,1.25,1.7,1.1,1.4,1.65];
const cEW_lo=[-0.9,-1.5,-1.2,-1.7,-1.3,-1.55,-1.15,-1.7,-1.3,-1.5,-1.1,-1.6,-1.25,-1.45,-1.1,-1.55,-1.2,-1.65,-1.3,-1.05,-1.45,-1.2,-1.7,-1.3,
-1.55,-1.1,-1.4,-1.7,-1.25,-1.45,-1.1,-1.6,-1.3,-1.2,-1.55,-1.1,-1.65,-1.25,-1.4,-1.1,-1.6,-1.2,-1.45,-1.1,-1.6,-1.3,-1.15,-1.45,
-1.25,-1.6,-1.1,-1.4,-1.2,-1.65,-1.3,-1.1,-0.3,-0.2,-0.15,-0.1,-0.2,-0.12,-0.15,-0.2,-0.25,-0.3,-0.2,-0.35,-0.3,-0.38,-0.25,-0.3,
-0.35,-0.28,-0.35,-0.28,-0.3,-0.25,-0.35,-0.28,-0.38,-0.32,-0.3,-0.25,-0.22,-0.12,-0.1,-0.05,-0.3,-0.28,-0.25,-0.2,-0.22,-0.18,-0.15,-0.12,
-1.0,-0.7,-1.1,-1.3,-0.9,-1.5,-1.2,-1.7,-1.3,-1.55,-1.2,-1.75,-1.35,-1.5,-1.15,-1.7,-1.3,-1.55,-1.2,-1.8,-1.4,-1.6,-1.25,-1.75,
-1.35,-1.55,-1.15,-1.7,-1.4,-1.25,-1.8,-1.45,-1.2,-1.6,-1.35,-1.85,-1.25,-1.55,-1.15,-1.7,-1.35,-1.25,-1.6,-1.2,-1.45,-1.8,-1.3,-1.55,
-1.2,-1.7,-1.4,-1.9,-1.3,-1.55,-1.2,-1.75,-1.35,-1.55,-1.2,-1.45,-1.7,-1.3,-1.2,-1.55,-1.3,-1.65,-1.2,-1.45,-1.75,-1.3,-1.55,-1.7,
-1.25,-1.6,-1.15,-1.8,-1.3,-1.5,-1.1,-1.7,-1.4,-1.2,-1.6,-1.3,-1.85,-1.15,-1.5,-1.7,-1.25,-1.45,-1.2,-1.75,-1.35,-1.55,-1.2,-1.7];
const cEW_peakT=[.1,.7,1.26,1.84,2.28,2.5,2.8,3.95,4.58,4.9,5.53,6.26,6.84,10.5,12.53,13,13.2,13.45,14.2,14.67,15.1,15.63,16.26,16.8,17.8,18.7,19.5,20.28,20.63,21.34,22.7,22.97,23.9,.75,1.13,2.53,2.95,3.68,4.19,4.98,5.5,6.26,6.55,7.68,10.52,10.84,12.43,13.1,13.83,14.92,15.11,16.17,17.4,17.83,19.04,19.58,20,20.63,20.9,22.49,23.67,23.92];
const cEW_peakV=[2,1.83,1.6,2.1,1.47,1.95,1.76,1.8,1.8,1.7,1.44,2.06,1.4,1.07,1.2,1.69,2.97,2,2.18,2.2,1.65,2.29,2.1,2.38,1.58,2.2,2.15,2.44,2.43,1.86,2.3,2.1,1.76,-2.1,-1.7,-2.03,-2.08,-2.97,-1.6,-2.6,-1.93,-1.8,-1.56,-.71,-.47,-2.85,-2,-2.62,-2.29,-2.4,-2.16,-1.9,-2.37,-2.17,-2.13,-2.3,-2.13,-2.34,-2.2,-2,-2.5,-1.91];
const cEW_coreU=[1.1,.8,.95,.75,1.0,.8,.9,.7,.95,.75,1.0,.8,.85,1.05,.75,.9,.8,1.0,.75,.9,.7,.95,.8,1.0,.85,1.05,.9,.7,.15,.1,.25,.3,.3,.25,.2,.2,.05,.1,.15,.22,-.05,0,.1,.22,.02,.08,.1,.15,.7,.85,.9,1.05,.85,1.1,.9,1.15,.85,1.05,.8,1.1,.9,1.2,.95,1.1,.85,1.05,.8,1.0,.9,1.15,.8,1.05,.9,1.2,.95,1.1,.85,1.0,.8,1.05,.9,1.1,.85,.95,.8,1.0,.9,1.05,.95,1.15,.85,1.05,.9,1.1,.85,1.0];
const cEW_coreL=[-.6,-.9,-.75,-1.0,-.8,-1.05,-.85,-1.15,-.9,-1.1,-.8,-1.05,-.85,-1.15,-.9,-1.05,-.8,-1.1,-.85,-1.0,-.8,-1.1,-.9,-1.05,-.85,-1.0,-.8,-.7,-.1,-.1,-.05,-.1,-.2,-.22,-.25,-.25,-.3,-.25,-.3,-.2,-.3,-.28,-.2,-.1,-.28,-.2,-.15,-.1,-.7,-.9,-1.1,-1.2,-1.0,-1.25,-1.05,-1.3,-1.1,-1.2,-1.05,-1.35,-1.1,-1.25,-1.05,-1.3,-1.1,-1.2,-1.0,-1.3,-1.1,-1.35,-1.05,-1.25,-1.1,-1.35,-1.15,-1.3,-1.05,-1.2,-1.1,-1.3,-1.05,-1.2,-1.0,-1.25,-1.05,-1.2,-1.0,-1.2,-1.1,-1.3,-1.05,-1.2,-1.1,-1.25,-1.0,-1.2];

// d NS
const dNS_up=[0.62,0.8,0.55,0.72,0.5,0.66,0.48,0.78,0.58,0.72,0.52,0.84,0.62,0.78,0.55,0.88,0.7,0.95,0.62,0.85,0.72,0.98,0.66,0.8,
0.92,0.7,0.84,0.62,0.98,0.74,0.86,0.66,0.9,0.7,0.82,0.62,0.94,0.68,0.85,0.6,0.8,0.62,0.76,0.58,0.88,0.64,0.8,0.58,
0.72,0.85,0.6,0.78,0.56,0.86,0.66,0.8,0.58,0.76,0.92,0.62,0.78,0.56,0.72,0.6,0.82,0.58,0.7,0.52,0.78,0.6,0.5,0.72,
0.56,0.64,0.5,0.72,0.55,0.62,0.48,0.68,0.52,0.6,0.46,0.66,0.5,0.58,0.44,0.62,0.48,0.42,0.56,0.4,0.5,0.38,0.48,0.34,
0.42,0.36,0.3,0.28,0.36,0.3,0.18,0.2,0.12,0.05,0.12,0.18,0.25,0.3,0.25,0.32,0.28,0.2,0.26,0.24,0.18,0.2,0.22,0.14,
0.12,0.15,0.1,0.08,0.16,0.1,0.06,0.08,0.12,0.05,0.14,0.18,0.1,0.15,0.22,0.2,0.12,0.06,0.1,0.05,-0.02,0.05,0.15,0.25,
0.3,0.36,0.42,0.3,0.46,0.36,0.52,0.4,0.6,0.45,0.62,0.7,0.52,0.85,0.6,0.72,0.96,0.62,0.8,0.58,0.7,0.52,0.82,0.6,
0.7,0.55,0.78,0.6,0.92,0.62,0.72,0.5,0.82,0.58,0.7,0.5,0.66,0.78,0.62,0.42];
const dNS_lo=[-0.55,-0.72,-0.62,-0.78,-0.68,-0.82,-0.72,-0.85,-0.7,-0.82,-0.6,-0.72,-0.8,-0.65,-0.84,-0.6,-0.75,-0.86,-0.62,-0.8,-0.7,-0.88,-0.65,-0.82,
-0.72,-0.9,-0.66,-0.8,-0.7,-0.92,-0.62,-0.78,-0.85,-0.68,-0.8,-0.62,-0.88,-0.72,-0.8,-0.64,-0.86,-0.72,-0.8,-0.66,-0.9,-0.72,-0.84,-0.62,
-0.92,-0.76,-0.9,-0.66,-0.8,-0.95,-0.7,-0.82,-0.66,-0.78,-0.62,-0.88,-0.7,-0.8,-0.62,-0.86,-0.7,-0.82,-0.66,-0.9,-0.74,-0.84,-0.7,-0.92,
-0.66,-0.82,-0.62,-0.8,-0.68,-0.75,-0.6,-0.72,-0.58,-0.68,-0.52,-0.7,-0.6,-0.66,-0.52,-0.64,-0.56,-0.7,-0.52,-0.62,-0.48,-0.6,-0.5,-0.56,
-0.46,-0.52,-0.4,-0.36,-0.42,-0.3,-0.25,-0.18,-0.2,-0.16,-0.1,-0.22,-0.3,-0.34,-0.26,-0.2,-0.24,-0.14,-0.2,-0.12,-0.18,-0.14,-0.1,-0.16,
-0.08,-0.05,-0.12,-0.1,-0.08,-0.14,-0.18,-0.16,-0.1,-0.12,-0.08,-0.1,-0.14,-0.05,-0.02,-0.04,-0.1,-0.16,-0.2,-0.28,-0.34,-0.25,-0.2,-0.08,
-0.42,-0.7,-0.5,-0.4,-0.6,-0.42,-0.58,-0.5,-0.7,-0.56,-0.48,-0.72,-0.58,-0.8,-0.6,-0.9,-0.78,-0.62,-0.9,-0.7,-0.95,-0.74,-0.62,-0.86,
-0.7,-0.94,-0.66,-0.8,-0.96,-0.72,-0.85,-0.68,-0.92,-0.74,-0.6,-0.88,-0.7,-0.95,-0.75,-0.35];
const dNS_peakT=[.05,.2,.37,1.35,1.83,2.13,2.36,2.6,2.8,3.68,3.78,4.7,4.64,5,5.48,6.06,6.39,7.1,7.82,8.07,8.8,9.79,10,10.94,11.91,11.97,12.83,14.64,16,16.34,17.9,18.77,19.07,19.4,19.6,20.02,20.2,20.56,21.12,22,22.35,22.67,22.83,.14,.68,.6,1.29,2.16,2.5,2.79,3.49,3.96,4.85,5.1,5.36,5.97,6.55,6.88,7.68,8.05,8.6,8.85,9.63,10.06,10.74,11.52,12.16,12.93,14.29,15.9,17.08,18.05,18.58,19.26,19.46,19.86,20.82,21.05,21.5,22.05,22.63,22.98];
const dNS_peakV=[.73,.9,.8,.9,1.09,1.2,1.02,.93,.9,1.32,1.26,1.42,1.37,.88,.93,.98,1.03,1.18,1.08,1.1,.77,1.11,.97,.94,.87,.55,.68,.42,.23,.23,.34,.56,.7,1.3,.84,1.46,1.61,1.44,1.1,1.38,1.3,1.27,.7,-.93,-1.25,-1.02,-1.23,-1.13,-1.15,-1.16,-1.26,-1.05,-1.2,-1.2,-1.35,-1.11,-.98,-1.15,-1.19,-1.13,-1.24,-1.24,-1.17,-.91,-.71,-.86,-.64,-.39,-.35,-.24,-.39,-.88,-.77,-1,-1.13,-1.28,-1.22,-1.44,-1.11,-.93,-1.25,-1.13];
const dNS_coreU=[.42,.32,.45,.34,.5,.38,.46,.34,.52,.38,.48,.36,.44,.56,.4,.5,.38,.55,.42,.5,.36,.46,.34,.48,.4,.5,.36,.46,.34,.5,.38,.44,.36,.48,.34,.42,.34,.46,.32,.42,.3,.4,.28,.36,.32,.26,.34,.24,.28,.2,.16,.12,.06,.1,.12,.14,.25,.2,.16,.1,.14,.08,.1,.06,.08,.05,.12,.1,.06,.06,.04,.02,.22,.28,.3,.26,.35,.3,.4,.32,.42,.34,.45,.32,.5,.36,.44,.36,.48,.34,.42,.3];
const dNS_coreL=[-.5,-.4,-.56,-.44,-.6,-.48,-.55,-.42,-.6,-.46,-.54,-.42,-.5,-.62,-.46,-.56,-.42,-.6,-.48,-.55,-.44,-.58,-.46,-.52,-.42,-.58,-.46,-.56,-.44,-.6,-.46,-.54,-.42,-.56,-.44,-.52,-.42,-.56,-.4,-.5,-.38,-.5,-.36,-.46,-.4,-.34,-.42,-.32,-.36,-.28,-.2,-.16,-.14,-.12,-.22,-.2,-.16,-.12,-.12,-.08,-.08,-.1,-.12,-.06,-.04,-.08,-.14,-.18,-.26,-.2,-.12,-.08,-.35,-.42,-.38,-.46,-.4,-.55,-.42,-.6,-.46,-.52,-.42,-.58,-.46,-.6,-.44,-.52,-.48,-.55,-.42,-.3];

// d EW
const dEW_up=[0.5,0.62,0.4,0.52,0.36,0.48,0.55,0.38,0.5,0.42,0.58,0.38,0.48,0.34,0.44,0.3,0.42,0.5,0.58,0.72,0.46,0.62,0.5,0.4,
0.48,0.56,0.42,0.68,0.5,0.6,0.44,0.54,0.48,0.4,0.62,0.5,0.72,0.56,0.44,0.6,0.42,0.5,0.36,0.46,0.4,0.34,0.42,0.3,
0.44,0.55,0.38,0.6,0.46,0.72,0.4,0.5,0.34,0.44,0.3,0.52,0.62,0.42,0.36,0.3,0.56,0.42,0.32,0.46,0.54,0.38,0.62,0.48,
0.58,0.44,0.68,0.5,0.72,0.4,0.5,0.34,0.42,0.3,0.48,0.36,0.28,0.4,0.32,0.36,0.26,0.2,0.28,0.34,0.24,0.3,0.38,0.28,
0.25,0.18,0.14,0.12,0.16,0.1,0.14,0.12,0.1,0.14,0.08,0.15,0.1,0.12,0.16,0.18,0.14,0.12,0.08,0.1,0.15,0.1,0.14,0.1,
0.08,0.06,0.1,0.08,0.12,0.06,0.08,0.1,0.14,0.08,0.1,0.06,0.02,0.04,0.1,0.12,0.14,0.1,0.12,0.14,0.16,0.12,0.1,0.15,
0.12,0.18,0.14,0.2,0.28,0.22,0.3,0.36,0.26,0.38,0.3,0.42,0.34,0.28,0.46,0.36,0.52,0.4,0.48,0.32,0.55,0.44,0.58,0.42,
0.5,0.38,0.45,0.34,0.4,0.3,0.44,0.42,0.48,0.36,0.4,0.44,0.32,0.38,0.46,0.3,0.42,0.34,0.4,0.3,0.42,0.34,0.44,0.4];
const dEW_lo=[-0.3,-0.5,-0.36,-0.46,-0.6,-0.42,-0.55,-0.38,-0.62,-0.44,-0.36,-0.52,-0.42,-0.48,-0.38,-0.58,-0.62,-0.44,-0.7,-0.5,-0.6,-0.45,-0.72,-0.54,
-0.42,-0.62,-0.5,-0.72,-0.46,-0.6,-0.76,-0.52,-0.8,-0.62,-0.72,-0.5,-0.42,-0.62,-0.46,-0.58,-0.64,-0.5,-0.56,-0.46,-0.6,-0.52,-0.48,-0.38,
-0.34,-0.56,-0.72,-0.46,-0.42,-0.6,-0.5,-0.66,-0.42,-0.58,-0.36,-0.44,-0.6,-0.52,-0.36,-0.42,-0.54,-0.62,-0.48,-0.64,-0.4,-0.55,-0.62,-0.44,
-0.4,-0.5,-0.34,-0.42,-0.55,-0.3,-0.4,-0.52,-0.32,-0.42,-0.3,-0.44,-0.32,-0.36,-0.26,-0.3,-0.38,-0.3,-0.34,-0.28,-0.24,-0.32,-0.22,-0.3,
-0.28,-0.2,-0.26,-0.22,-0.3,-0.24,-0.18,-0.12,-0.14,-0.08,-0.14,-0.18,-0.24,-0.28,-0.2,-0.24,-0.18,-0.12,-0.18,-0.12,-0.16,-0.1,-0.14,-0.1,
-0.12,-0.16,-0.1,-0.14,-0.08,-0.12,-0.16,-0.2,-0.14,-0.1,-0.2,-0.12,-0.18,-0.1,-0.14,-0.12,-0.1,-0.08,-0.14,-0.2,-0.24,-0.16,-0.22,-0.18,
-0.14,-0.2,-0.26,-0.22,-0.3,-0.2,-0.24,-0.34,-0.28,-0.38,-0.46,-0.3,-0.52,-0.4,-0.56,-0.42,-0.6,-0.48,-0.66,-0.44,-0.54,-0.46,-0.6,-0.5,
-0.44,-0.56,-0.4,-0.5,-0.36,-0.44,-0.52,-0.38,-0.46,-0.6,-0.42,-0.54,-0.66,-0.46,-0.38,-0.48,-0.42,-0.5,-0.36,-0.46,-0.54,-0.36,-0.42,-0.3];
const dEW_peakT=[.1,.42,1,1.51,2.13,3.2,3.81,4.37,4.48,5.36,5.9,6.05,7.39,7.55,8.73,9.4,9.84,9.94,10.7,11.59,12.2,13.04,13.23,13.52,14.63,14.84,15.5,16.38,16.87,16.98,18.37,19.46,19.9,20.57,21.2,22.26,22.96,.15,.88,1.82,2.14,2.6,3.95,4.73,4.85,5.44,5.65,7.12,7.6,8.03,8.22,9.2,10.7,11.13,11.82,12.47,14.15,14.38,15.72,16.38,16.6,17.5,18.56,19.13,19.46,19.8,20.76,21.81,22.3,22.72,22.9];
const dEW_peakV=[.81,.64,.73,.82,.94,.94,1.07,1.41,.97,1.01,1.4,1.32,1.05,.75,1.31,.97,1.32,.77,.63,.97,.5,1.18,.67,1.14,.52,.91,.64,1,.73,.61,.56,.84,.57,1.03,.79,1.21,.67,-1.25,-1.06,-1.07,-.88,-.98,-.9,-.95,-1.42,-.84,-1.23,-.77,-.82,-.92,-.86,-.78,-1.13,-.77,-.99,-.55,-1.47,-.78,-.33,-.61,-1.41,-.46,-.39,-.53,-1.33,-.75,-.78,-.64,-.68,-.86,-.41];
const dEW_coreU=[.3,.22,.34,.24,.3,.22,.36,.26,.32,.24,.42,.3,.36,.26,.4,.3,.38,.28,.44,.32,.4,.3,.36,.26,.34,.24,.4,.28,.36,.26,.42,.3,.34,.24,.38,.28,.42,.32,.36,.26,.44,.34,.38,.28,.32,.22,.36,.28,.24,.18,.16,.1,.12,.14,.1,.12,.08,.1,.14,.1,.08,.05,.1,.08,.12,.1,.1,.14,.12,.16,.2,.24,.2,.3,.24,.34,.26,.38,.3,.36,.26,.34,.26,.3,.22,.32,.24,.28,.22,.3,.24,.26];
const dEW_coreL=[-.26,-.36,-.28,-.4,-.3,-.36,-.44,-.34,-.46,-.36,-.42,-.32,-.5,-.38,-.44,-.34,-.4,-.46,-.34,-.42,-.3,-.4,-.46,-.34,-.38,-.3,-.44,-.34,-.4,-.28,-.36,-.42,-.32,-.38,-.3,-.36,-.28,-.36,-.3,-.26,-.34,-.26,-.3,-.24,-.26,-.2,-.26,-.2,-.24,-.16,-.12,-.14,-.2,-.16,-.14,-.1,-.12,-.1,-.14,-.12,-.16,-.1,-.08,-.12,-.1,-.14,-.12,-.16,-.14,-.18,-.22,-.24,-.26,-.3,-.34,-.3,-.4,-.32,-.42,-.34,-.3,-.4,-.3,-.36,-.28,-.38,-.28,-.34,-.26,-.36,-.26,-.3];

const yTicksA=[-6,-3,0,3,6], yTicksB1=[-15,-10,-5,0,5,10,15], yTicksB2=[-10,-5,0,5,10], yTicksC1=[-8,-4,0,4,8], yTicksC2=[-4,-2,0,2,4], yTicksD=[-2,-1,0,1,2];

const INK="#231f20", SERIF="'Liberation Serif','Times New Roman',serif";
const svg=d3.select("#c");
const colX=[[184,1267],[1600,2684]];
const rowY=[[23,515],[711,1202.5],[1399,1890.5],[2087,2578]];
const xLabY=[568,1255,1945,2634], cnY=[625,1305,2000,2683], capY=[672,1349,2043,2740];
const cnX=[724,2163];

const panels=[
 {r:0,c:0,span:22,sub:"NS",ext:6,yt:yTicksA,lab:xLabelsA,up:aNS_up,lo:aNS_lo,pt:aNS_peakT,pv:aNS_peakV,cu:aNS_coreU,cl:aNS_coreL},
 {r:0,c:1,span:22,sub:"EW",ext:6,yt:yTicksA,lab:xLabelsA,up:aEW_up,lo:aEW_lo,pt:aEW_peakT,pv:aEW_peakV,cu:aEW_coreU,cl:aEW_coreL},
 {r:1,c:0,span:24,sub:"NS",ext:15,yt:yTicksB1,lab:xLabelsB,up:bNS_up,lo:bNS_lo,pt:bNS_peakT,pv:bNS_peakV,cu:bNS_coreU,cl:bNS_coreL},
 {r:1,c:1,span:24,sub:"EW",ext:10,yt:yTicksB2,lab:xLabelsB,up:bEW_up,lo:bEW_lo,pt:bEW_peakT,pv:bEW_peakV,cu:bEW_coreU,cl:bEW_coreL},
 {r:2,c:0,span:24,sub:"NS",ext:8,yt:yTicksC1,lab:xLabelsC,up:cNS_up,lo:cNS_lo,pt:cNS_peakT,pv:cNS_peakV,cu:cNS_coreU,cl:cNS_coreL},
 {r:2,c:1,span:24,sub:"EW",ext:4,yt:yTicksC2,lab:xLabelsC,up:cEW_up,lo:cEW_lo,pt:cEW_peakT,pv:cEW_peakV,cu:cEW_coreU,cl:cEW_coreL},
 {r:3,c:0,span:23,sub:"NS",ext:2,yt:yTicksD,lab:xLabelsD,up:dNS_up,lo:dNS_lo,pt:dNS_peakT,pv:dNS_peakV,cu:dNS_coreU,cl:dNS_coreL},
 {r:3,c:1,span:23,sub:"EW",ext:2,yt:yTicksD,lab:xLabelsD,up:dEW_up,lo:dEW_lo,pt:dEW_peakT,pv:dEW_peakV,cu:dEW_coreU,cl:dEW_coreL}
];

panels.forEach(p=>{
  const [x0,x1]=colX[p.c],[y0,y1]=rowY[p.r];
  const x=d3.scaleLinear().domain([0,24]).range([x0,x1]);
  const y=d3.scaleLinear().domain([-p.ext,p.ext]).range([y1,y0]);
  const g=svg.append("g");
  // solid core of the trace
  const nc=Math.min(p.cu.length,p.cl.length), cs=p.span/(nc-1);
  const core=d3.range(nc).map(i=>({t:i*cs,u:p.cu[i],l:p.cl[i]}));
  g.append("path").datum(core).attr("fill",INK)
    .attr("d",d3.area().x(d=>x(d.t)).y0(d=>y(d.l)).y1(d=>y(d.u)));
  // zigzag trace
  const n=Math.min(p.up.length,p.lo.length), st=p.span/n, pts=[];
  d3.range(n).forEach(i=>{pts.push([i*st,p.up[i]]);pts.push([(i+.5)*st,p.lo[i]]);});
  g.append("path").datum(pts).attr("fill","none").attr("stroke",INK).attr("stroke-width",2.4)
    .attr("stroke-linejoin","miter").attr("stroke-miterlimit",20)
    .attr("d",d3.line().x(d=>x(d[0])).y(d=>y(d[1])));
  // isolated tall excursions
  g.selectAll("line.pk").data(p.pt).join("line").attr("class","pk")
    .attr("x1",d=>x(d)).attr("x2",d=>x(d)).attr("y1",y(0)).attr("y2",(d,i)=>y(p.pv[i]))
    .attr("stroke",INK).attr("stroke-width",2);
  // frame
  g.append("rect").attr("x",x0).attr("y",y0).attr("width",x1-x0).attr("height",y1-y0)
    .attr("fill","none").attr("stroke",INK).attr("stroke-width",2.6);
  // x axis
  const ax=g.append("g").attr("transform",`translate(0,${y1})`)
    .call(d3.axisBottom(x).tickValues(xTickHours).tickFormat((d,i)=>p.lab[i]).tickSize(-13));
  ax.select(".domain").remove();
  ax.selectAll("line").attr("stroke",INK).attr("stroke-width",2);
  ax.selectAll("text").attr("y",xLabY[p.r]-y1).attr("dy",0).attr("font-family",SERIF).attr("font-size",43).attr("fill",INK).attr("stroke","none");
  // y axis
  const ay=g.append("g").attr("transform",`translate(${x0},0)`)
    .call(d3.axisLeft(y).tickValues(p.yt).tickSize(-14).tickFormat(d=>""+Math.abs(d)));
  ay.select(".domain").remove();
  ay.selectAll("line").attr("stroke",INK).attr("stroke-width",2);
  ay.selectAll("text").attr("x",-21).attr("dy",0)
    .attr("y",d=>d===p.ext?19:(d===-p.ext?10:16))
    .attr("text-anchor","end").attr("font-family",SERIF).attr("font-size",43).attr("fill",INK);
  // long minus signs, placed left of the digits
  ay.selectAll(".tick").filter(d=>d<0).append("text")
    .attr("x",d=>-30-(Math.abs(d)>=10?43:21.5))
    .attr("y",d=>(d===-p.ext?10:16)-7)
    .attr("text-anchor","end").attr("font-family",SERIF).attr("font-size",30).attr("fill",INK).text("\u2014");
  // y title
  const tx=p.c===0?58:1488, ty=(y0+y1)/2-3;
  const t=g.append("text").attr("transform",`translate(${tx},${ty}) rotate(-90)`)
    .attr("text-anchor","middle").attr("font-family",SERIF).attr("font-size",44).attr("fill",INK);
  t.append("tspan").attr("font-style","italic").text("V");
  t.append("tspan").attr("font-size",29).attr("dy",7).attr("dx",-3).text(p.sub);
  t.append("tspan").attr("dy",-7).attr("dx",3).text("/");
  t.append("tspan").attr("dx",3).text("mV");
  // x title
  g.append("text").attr("x",cnX[p.c]).attr("y",cnY[p.r]).attr("text-anchor","middle")
    .attr("font-family","'Noto Sans CJK SC'").attr("font-weight",300).attr("font-size",42).attr("fill",INK).text("时刻");
});
rowNames.forEach((n,i)=>{
  svg.append("text").attr("x",1398).attr("y",capY[i]).attr("text-anchor","middle")
    .attr("font-family",SERIF).attr("font-size",40).attr("letter-spacing",5).attr("fill",INK).text(n);
});
</script></body></html>
